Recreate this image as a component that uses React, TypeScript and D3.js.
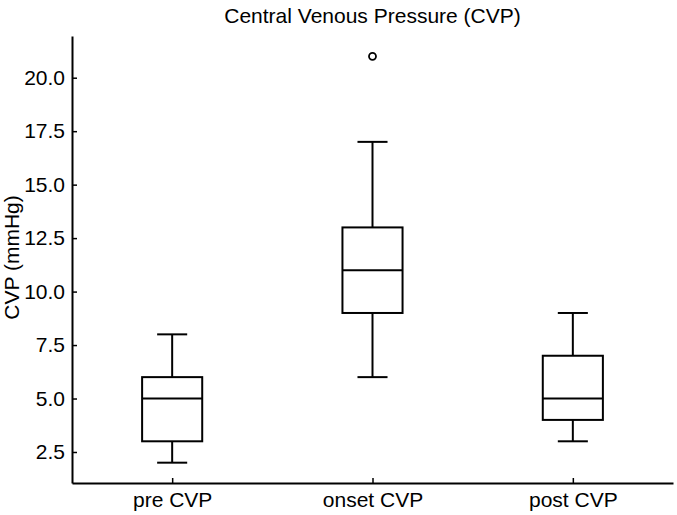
import React, { useEffect, useRef } from "react";
import * as d3 from "d3";

// box stats
const categories = ["pre CVP", "onset CVP", "post CVP"];
const whiskerLow = [2, 6, 3];
const q1 = [3, 9, 4];
const medians = [5, 11, 5];
const q3 = [6, 13, 7];
const whiskerHigh = [8, 17, 9];
const fliers = [[], [21], []];
const yTicks = [2.5, 5, 7.5, 10, 12.5, 15, 17.5, 20];

const width = 677;
const height = 515;
const font = "'Liberation Sans', Arial, sans-serif";

export default function App() {
  const ref = useRef<SVGSVGElement>(null);

  useEffect(() => {
    const svg = d3.select(ref.current);
    svg.selectAll("*").remove();

    const margin = { top: 36, right: 4, bottom: 32, left: 72 };
    const w = width - margin.left - margin.right;
    const h = height - margin.top - margin.bottom;

    // matplotlib-ish limits: 5% padding on data range
    const x = d3.scaleLinear().domain([0.5, 3.5]).range([0, w]);
    const y = d3.scaleLinear().domain([1.05, 21.95]).range([h, 0]);

    const g = svg.append("g").attr("transform", `translate(${margin.left},${margin.top})`);

    // title
    svg.append("text")
      .attr("x", margin.left + w / 2)
      .attr("y", 23)
      .attr("text-anchor", "middle")
      .style("font-family", font)
      .style("font-size", "21px")
      .text("Central Venous Pressure (CVP)");

    // y axis
    const yAxis = g.append("g")
      .call(d3.axisLeft(y).tickValues(yTicks).tickSizeInner(-5).tickSizeOuter(0).tickPadding(7).tickFormat(d3.format(".1f")));
    yAxis.select(".domain").attr("stroke-width", 2);
    yAxis.selectAll(".tick line").attr("stroke-width", 1.5);
    yAxis.selectAll("text").style("font-family", font).style("font-size", "21px").attr("fill", "#000");

    // x axis
    const xAxis = g.append("g")
      .attr("transform", `translate(0,${h})`)
      .call(d3.axisBottom(x).tickValues([1, 2, 3]).tickSizeInner(-5).tickSizeOuter(0).tickPadding(9)
        .tickFormat((d, i) => categories[i]));
    xAxis.select(".domain").attr("stroke-width", 2);
    xAxis.selectAll(".tick line").attr("stroke-width", 1.5);
    xAxis.selectAll("text").style("font-family", font).style("font-size", "21px").attr("fill", "#000");

    // y label
    svg.append("text")
      .attr("transform", `translate(19,${margin.top + h / 2 - 2}) rotate(-90)`)
      .attr("text-anchor", "middle")
      .style("font-family", font)
      .style("font-size", "21px")
      .text("CVP (mmHg)");

    const boxW = x(1.15) - x(0.85);
    const capW = x(1.075) - x(0.925);

    categories.forEach((c, i) => {
      const cx = x(i + 1);
      const bg = g.append("g").attr("stroke", "#000").attr("stroke-width", 2).attr("fill", "none");
      // whiskers
      bg.append("line").attr("x1", cx).attr("x2", cx).attr("y1", y(q1[i])).attr("y2", y(whiskerLow[i]));
      bg.append("line").attr("x1", cx).attr("x2", cx).attr("y1", y(q3[i])).attr("y2", y(whiskerHigh[i]));
      bg.append("line").attr("x1", cx - capW / 2).attr("x2", cx + capW / 2).attr("y1", y(whiskerLow[i])).attr("y2", y(whiskerLow[i]));
      bg.append("line").attr("x1", cx - capW / 2).attr("x2", cx + capW / 2).attr("y1", y(whiskerHigh[i])).attr("y2", y(whiskerHigh[i]));
      // box
      bg.append("rect")
        .attr("x", cx - boxW / 2)
        .attr("y", y(q3[i]))
        .attr("width", boxW)
        .attr("height", y(q1[i]) - y(q3[i]));
      bg.append("line").attr("x1", cx - boxW / 2).attr("x2", cx + boxW / 2).attr("y1", y(medians[i])).attr("y2", y(medians[i]));
      // outliers
      bg.selectAll("circle").data(fliers[i]).join("circle")
        .attr("cx", cx)
        .attr("cy", (d) => y(d))
        .attr("r", 3.5)
        .attr("stroke-width", 1.8);
    });
  }, []);

  return (
    <svg ref={ref} width={width} height={height}
      style={{ position: "absolute", left: 0, top: 0, background: "#fff" }} />
  );
}
